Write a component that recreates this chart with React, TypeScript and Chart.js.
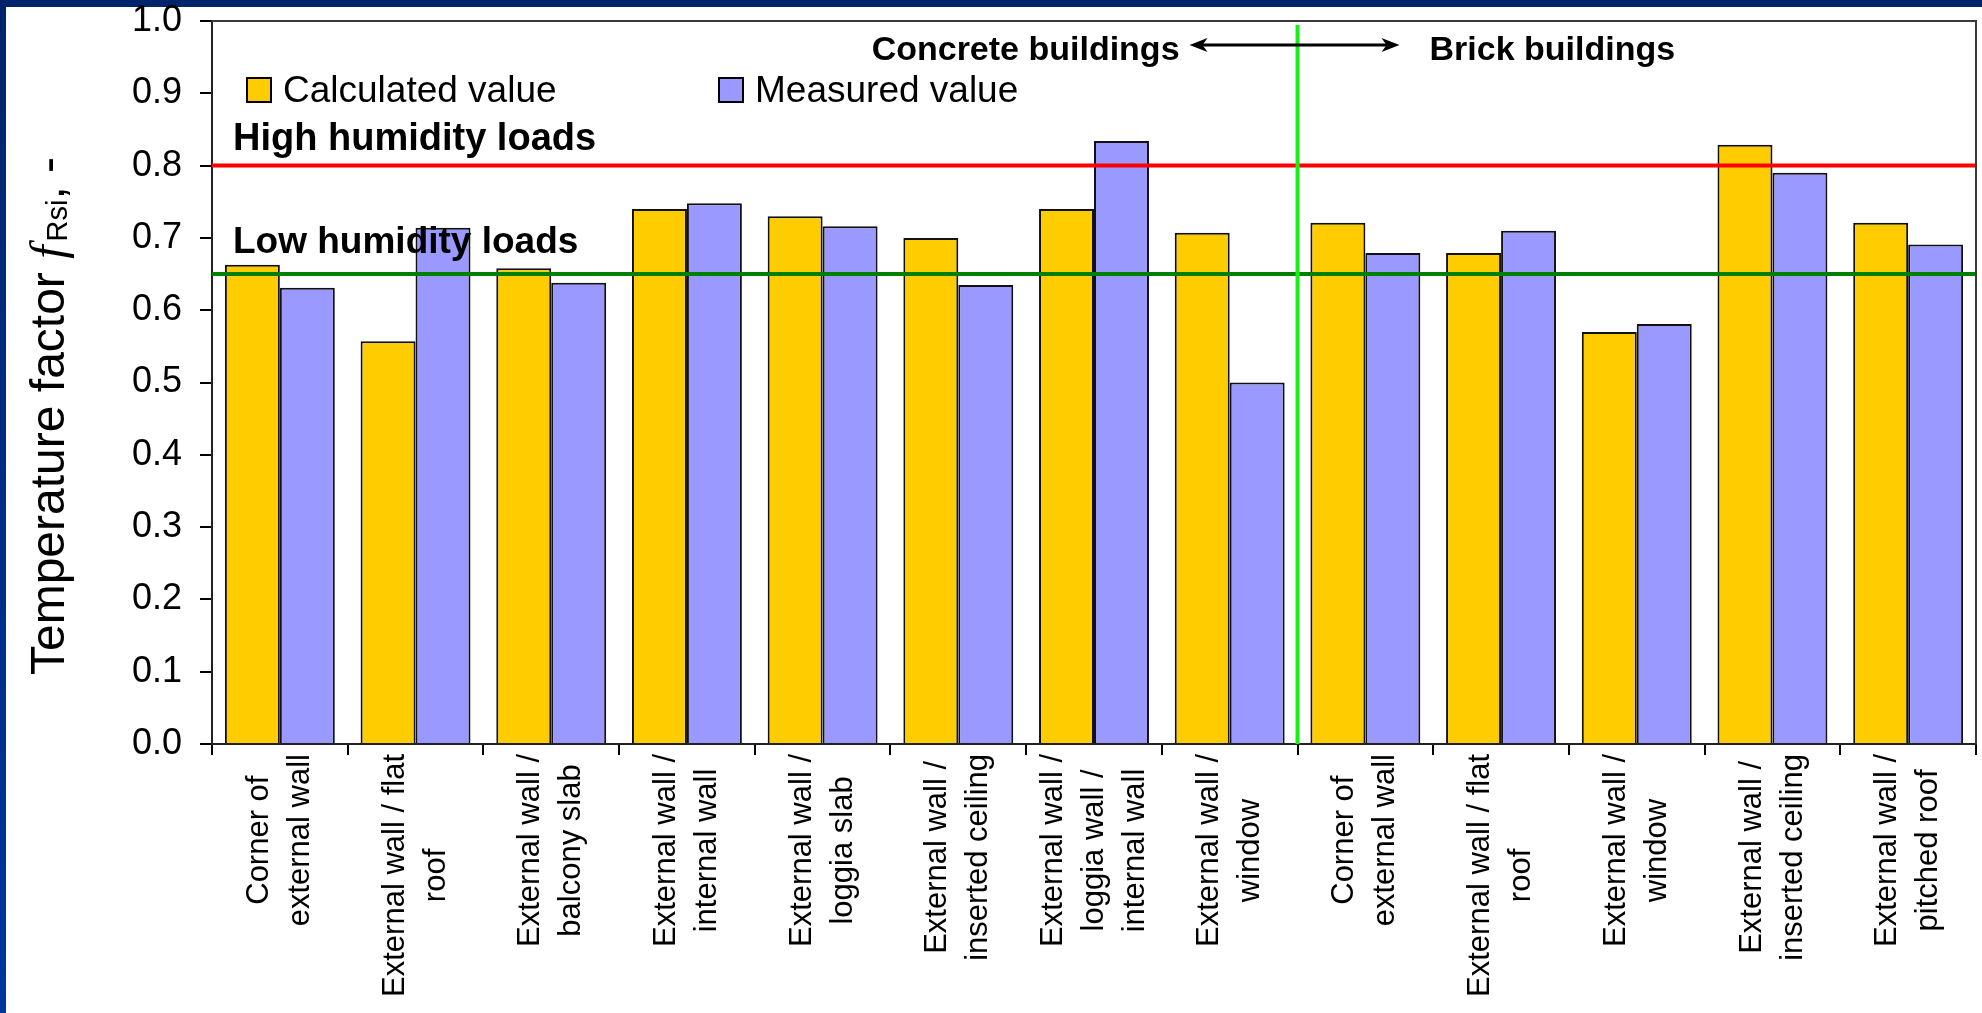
import { useEffect, useRef } from "react";
import { Chart, registerables } from "chart.js";

Chart.register(...registerables);

// Thermal bridge details, concrete buildings first, then brick buildings
const categories: string[][] = [
  ["Corner of", "external wall"],
  ["External wall / flat", "roof"],
  ["External wall /", "balcony slab"],
  ["External wall /", "internal wall"],
  ["External wall /", "loggia slab"],
  ["External wall /", "inserted ceiling"],
  ["External wall /", "loggia wall /", "internal wall"],
  ["External wall /", "window"],
  ["Corner of", "external wall"],
  ["External wall / flat", "roof"],
  ["External wall /", "window"],
  ["External wall /", "inserted ceiling"],
  ["External wall /", "pitched roof"],
];

const calculatedValues = [0.663, 0.557, 0.658, 0.74, 0.73, 0.7, 0.74, 0.707, 0.721, 0.679, 0.57, 0.829, 0.721];
const measuredValues = [0.631, 0.714, 0.638, 0.748, 0.716, 0.635, 0.834, 0.5, 0.679, 0.71, 0.581, 0.79, 0.691];

const seriesNames = ["Calculated value", "Measured value"];
const seriesColors = ["#FFCC00", "#9999FF"];

const limitValues = [0.8, 0.65];
const limitNames = ["High humidity loads", "Low humidity loads"];
const limitColors = ["#FF0000", "#008000"];

const groupNames = ["Concrete buildings", "Brick buildings"];
const firstBrickIndex = 8;

const yMin = 0;
const yMax = 1;
const yStep = 0.1;

const SANS = '"Liberation Sans", Arial, sans-serif';
const SERIF = '"Liberation Serif", "Times New Roman", serif';

function drawArrowHead(ctx: CanvasRenderingContext2D, x: number, y: number, dir: number) {
  ctx.beginPath();
  ctx.moveTo(x, y);
  ctx.lineTo(x - dir * 18, y - 7);
  ctx.lineTo(x - dir * 13, y);
  ctx.lineTo(x - dir * 18, y + 7);
  ctx.closePath();
  ctx.fill();
}

const annotations = {
  id: "annotations",
  afterDatasetsDraw(chart: any) {
    const { ctx, chartArea: a, scales } = chart;
    const x = scales.x;
    const y = scales.y;
    ctx.save();

    // humidity limit lines
    limitValues.forEach((v, i) => {
      const py = y.getPixelForValue(v);
      ctx.strokeStyle = limitColors[i];
      ctx.lineWidth = 4;
      ctx.beginPath();
      ctx.moveTo(a.left, py);
      ctx.lineTo(a.right, py);
      ctx.stroke();
    });

    // split between concrete and brick buildings
    const splitX = (x.getPixelForValue(firstBrickIndex - 1) + x.getPixelForValue(firstBrickIndex)) / 2;
    ctx.strokeStyle = "#19EE19";
    ctx.lineWidth = 4;
    ctx.beginPath();
    ctx.moveTo(splitX, a.top + 4);
    ctx.lineTo(splitX, a.bottom);
    ctx.stroke();

    // double arrow
    const arrowY = 45;
    ctx.strokeStyle = "#000";
    ctx.fillStyle = "#000";
    ctx.lineWidth = 3;
    ctx.beginPath();
    ctx.moveTo(splitX - 96, arrowY);
    ctx.lineTo(splitX + 90, arrowY);
    ctx.stroke();
    drawArrowHead(ctx, splitX - 108, arrowY, -1);
    drawArrowHead(ctx, splitX + 102, arrowY, 1);

    // group titles
    ctx.font = `bold 34px ${SANS}`;
    ctx.textBaseline = "alphabetic";
    ctx.textAlign = "right";
    ctx.fillText(groupNames[0], splitX - 118, 60);
    ctx.textAlign = "left";
    ctx.fillText(groupNames[1], splitX + 132, 60);

    // limit captions
    ctx.font = `bold 38px ${SANS}`;
    ctx.fillText(limitNames[0], a.left + 21, y.getPixelForValue(limitValues[0]) - 16);
    ctx.font = `bold 37px ${SANS}`;
    ctx.fillText(limitNames[1], a.left + 21, y.getPixelForValue(limitValues[1]) - 21);

    // legend
    const legendX = [247, 719];
    ctx.font = `37px ${SANS}`;
    seriesNames.forEach((name, i) => {
      ctx.fillStyle = seriesColors[i];
      ctx.fillRect(legendX[i], 78, 24, 24);
      ctx.strokeStyle = "#000";
      ctx.lineWidth = 2;
      ctx.strokeRect(legendX[i], 78, 24, 24);
      ctx.fillStyle = "#000";
      ctx.fillText(name, legendX[i] + 36, 102);
    });

    ctx.restore();
  },
  afterDraw(chart: any) {
    const { ctx, chartArea: a, scales } = chart;
    const x = scales.x;
    ctx.save();

    // top and right frame of the plot area
    ctx.strokeStyle = "#3a3a3a";
    ctx.lineWidth = 2;
    ctx.beginPath();
    ctx.moveTo(a.left, a.top);
    ctx.lineTo(a.right, a.top);
    ctx.lineTo(a.right, a.bottom);
    ctx.stroke();

    // rotated, centred multi-line category labels
    ctx.fillStyle = "#000";
    ctx.font = `31px ${SANS}`;
    ctx.textAlign = "center";
    ctx.textBaseline = "middle";
    const lineH = 41;
    const labelTop = a.bottom + 10;
    (chart.data.labels as string[][]).forEach((lines, i) => {
      const cx = x.getPixelForValue(i);
      const widest = Math.max(...lines.map((l) => ctx.measureText(l).width));
      ctx.save();
      ctx.translate(cx, labelTop);
      ctx.rotate(-Math.PI / 2);
      lines.forEach((line, j) => {
        ctx.fillText(line, -widest / 2, (j - (lines.length - 1) / 2) * lineH);
      });
      ctx.restore();
    });

    // y-axis title: Temperature factor f_Rsi, -
    ctx.save();
    ctx.translate(64, 675);
    ctx.rotate(-Math.PI / 2);
    ctx.textAlign = "left";
    ctx.textBaseline = "alphabetic";
    let tx = 0;
    ctx.font = `48px ${SANS}`;
    const t1 = "Temperature factor ";
    ctx.fillText(t1, tx, 0);
    tx += ctx.measureText(t1).width;
    ctx.font = `italic 48px ${SERIF}`;
    ctx.fillText("f", tx, 0);
    tx += ctx.measureText("f").width + 4;
    ctx.font = `29px ${SANS}`;
    ctx.fillText("Rsi", tx, 3);
    tx += ctx.measureText("Rsi").width;
    ctx.font = `48px ${SANS}`;
    ctx.fillText(", -", tx, 0);
    ctx.restore();

    ctx.restore();
  },
};

export default function App() {
  const canvasRef = useRef<HTMLCanvasElement | null>(null);

  useEffect(() => {
    if (!canvasRef.current) return;
    const chart = new Chart(canvasRef.current, {
      type: "bar",
      data: {
        labels: categories,
        datasets: [
          {
            label: seriesNames[0],
            data: calculatedValues,
            backgroundColor: seriesColors[0],
            borderColor: "#111",
            borderWidth: 2,
          },
          {
            label: seriesNames[1],
            data: measuredValues,
            backgroundColor: seriesColors[1],
            borderColor: "#111",
            borderWidth: 2,
          },
        ],
      },
      options: {
        responsive: false,
        animation: false,
        devicePixelRatio: 1,
        layout: { padding: { left: 0, right: 6, top: 21, bottom: 0 } },
        datasets: { bar: { categoryPercentage: 0.81, barPercentage: 1.0 } },
        plugins: { legend: { display: false }, tooltip: { enabled: false }, title: { display: false } },
        scales: {
          x: {
            type: "category",
            offset: true,
            grid: { display: true, offset: true, drawOnChartArea: false, drawTicks: true, tickLength: 11, color: "#000", lineWidth: 2 },
            border: { display: true, color: "#222", width: 2 },
            ticks: { display: false },
            afterFit: (scale: any) => {
              scale.height = 269;
              scale.paddingLeft = 0;
              scale.paddingRight = 0;
            },
          },
          y: {
            min: yMin,
            max: yMax,
            ticks: {
              stepSize: yStep,
              color: "#000",
              font: { family: SANS, size: 36 },
              padding: 18,
              callback: (v: any) => Number(v).toFixed(1),
            },
            grid: { display: true, drawOnChartArea: false, drawTicks: true, tickLength: 12, color: "#000", lineWidth: 2 },
            border: { display: true, color: "#222", width: 2 },
            afterFit: (scale: any) => {
              scale.width = 212;
              scale.paddingTop = 0;
              scale.paddingBottom = 0;
            },
          },
        },
      },
      plugins: [annotations],
    });
    return () => chart.destroy();
  }, []);

  return (
    <div style={{ position: "fixed", left: 0, top: 0, width: 1982, height: 1013, background: "#fff", overflow: "hidden" }}>
      <div style={{ position: "absolute", left: 0, top: 0, width: 1982, height: 7, background: "#00246B" }} />
      <div
        style={{
          position: "absolute",
          left: 0,
          top: 0,
          width: 6,
          height: 1013,
          background: "linear-gradient(to bottom, #00246B, #0036A0)",
        }}
      />
      <canvas
        ref={canvasRef}
        width={1982}
        height={1013}
        style={{ position: "absolute", left: 0, top: 0, width: 1982, height: 1013 }}
      />
    </div>
  );
}
